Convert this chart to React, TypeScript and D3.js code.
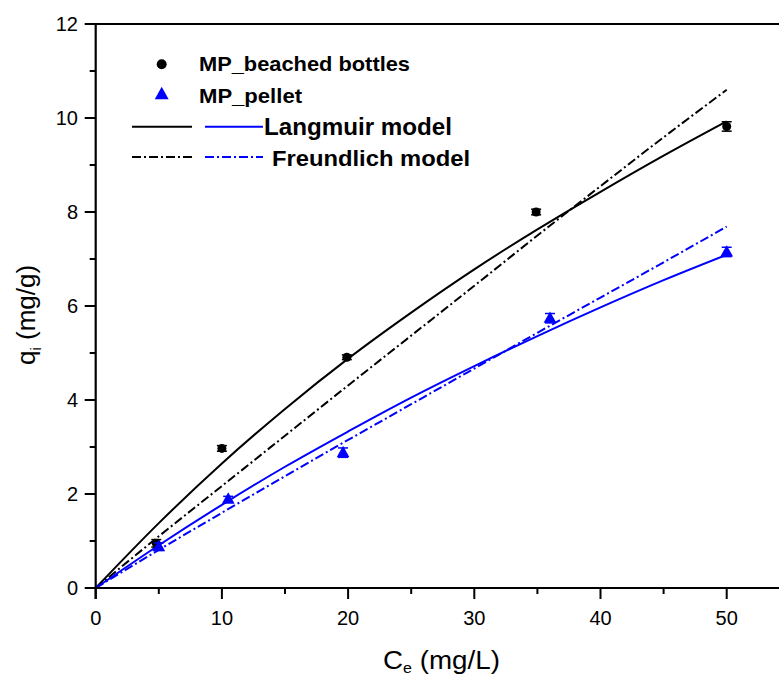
import React from "react";
import * as d3 from "d3";

const bottlesX = [4.8, 10, 19.9, 34.9, 50];
const bottlesY = [0.95, 2.97, 4.91, 8.0, 9.82];
const bottlesErr = [0.08, 0.06, 0.05, 0.06, 0.1];

const pelletX = [5, 10.5, 19.6, 36, 50];
const pelletY = [0.88, 1.89, 2.88, 5.74, 7.15];
const pelletErr = [0.08, 0.06, 0.1, 0.1, 0.1];

const modelX = [0, 5, 10, 15, 20, 25, 30, 35, 40, 45, 50];
const langBottles = [0, 1.38, 2.65, 3.81, 4.88, 5.86, 6.78, 7.63, 8.43, 9.2, 9.93];
const freuBottles = [0, 1.1, 2.17, 3.24, 4.31, 5.37, 6.43, 7.5, 8.55, 9.59, 10.6];
const langPellet = [0, 0.91, 1.77, 2.58, 3.33, 4.05, 4.72, 5.36, 5.97, 6.55, 7.09];
const freuPellet = [0, 0.81, 1.6, 2.38, 3.15, 3.91, 4.67, 5.43, 6.18, 6.93, 7.69];

const xMajor = [0, 10, 20, 30, 40, 50];
const xMinor = [5, 15, 25, 35, 45];
const yMajor = [0, 2, 4, 6, 8, 10, 12];
const yMinor = [1, 3, 5, 7, 9, 11];

const W = 779;
const H = 679;
const FONT = "'Liberation Sans', Arial, sans-serif";
const BLUE = "#0000ff";
const DASHDOT = "9,3,2,3";

export default function App() {
  const x = d3.scaleLinear().domain([0, 55]).range([95.7, 95.7 + 55 * 12.62]);
  const y = d3.scaleLinear().domain([0, 12]).range([588, 24]);
  const line = d3
    .line<number>()
    .x((_, i) => x(modelX[i]))
    .y((d) => y(d))
    .curve(d3.curveMonotoneX);

  const x0 = x(0);
  const y0 = y(0);

  const tri = (cx: number, cy: number, s: number) =>
    `M${cx},${cy - s * 0.62}L${cx + s * 0.58},${cy + s * 0.42}L${cx - s * 0.58},${cy + s * 0.42}Z`;

  return (
    <svg
      width={W}
      height={H}
      style={{ position: "absolute", left: 0, top: 0, background: "#fff" }}
      fontFamily={FONT}
    >
      <rect width={W} height={H} fill="#fff" />
      {/* model lines */}
      <path d={line(langBottles) || ""} fill="none" stroke="#000" strokeWidth={2} />
      <path d={line(freuBottles) || ""} fill="none" stroke="#000" strokeWidth={2} strokeDasharray={DASHDOT} />
      <path d={line(langPellet) || ""} fill="none" stroke={BLUE} strokeWidth={2} />
      <path d={line(freuPellet) || ""} fill="none" stroke={BLUE} strokeWidth={2} strokeDasharray={DASHDOT} />

      {/* data points */}
      {bottlesX.map((v, i) => (
        <g key={"b" + i}>
          <line x1={x(v)} x2={x(v)} y1={y(bottlesY[i] - bottlesErr[i])} y2={y(bottlesY[i] + bottlesErr[i])} stroke="#000" strokeWidth={1.5} />
          <line x1={x(v) - 5} x2={x(v) + 5} y1={y(bottlesY[i] - bottlesErr[i])} y2={y(bottlesY[i] - bottlesErr[i])} stroke="#000" strokeWidth={1.5} />
          <line x1={x(v) - 5} x2={x(v) + 5} y1={y(bottlesY[i] + bottlesErr[i])} y2={y(bottlesY[i] + bottlesErr[i])} stroke="#000" strokeWidth={1.5} />
          <circle cx={x(v)} cy={y(bottlesY[i])} r={4.5} fill="#000" />
        </g>
      ))}
      {pelletX.map((v, i) => (
        <g key={"p" + i}>
          <line x1={x(v)} x2={x(v)} y1={y(pelletY[i] - pelletErr[i])} y2={y(pelletY[i] + pelletErr[i])} stroke={BLUE} strokeWidth={1.5} />
          <line x1={x(v) - 5} x2={x(v) + 5} y1={y(pelletY[i] - pelletErr[i])} y2={y(pelletY[i] - pelletErr[i])} stroke={BLUE} strokeWidth={1.5} />
          <line x1={x(v) - 5} x2={x(v) + 5} y1={y(pelletY[i] + pelletErr[i])} y2={y(pelletY[i] + pelletErr[i])} stroke={BLUE} strokeWidth={1.5} />
          <path d={tri(x(v), y(pelletY[i]), 11)} fill={BLUE} />
        </g>
      ))}

      {/* axes */}
      <line x1={85} x2={W} y1={y(12)} y2={y(12)} stroke="#000" strokeWidth={2.2} />
      <line x1={x0} x2={x0} y1={y(12)} y2={y0 + 11} stroke="#000" strokeWidth={2.2} />
      <line x1={85} x2={W} y1={y0} y2={y0} stroke="#000" strokeWidth={2.2} />
      {yMajor.map((t) => (
        <g key={"ym" + t}>
          <line x1={x0 - 11} x2={x0} y1={y(t)} y2={y(t)} stroke="#000" strokeWidth={2} />
          <text x={78} y={y(t) + 7} textAnchor="end" fontSize={20} fill="#000">
            {t}
          </text>
        </g>
      ))}
      {yMinor.map((t) => (
        <line key={"yn" + t} x1={x0 - 6} x2={x0} y1={y(t)} y2={y(t)} stroke="#000" strokeWidth={2} />
      ))}
      {xMajor.map((t) => (
        <g key={"xm" + t}>
          <line x1={x(t)} x2={x(t)} y1={y0} y2={y0 + 11} stroke="#000" strokeWidth={2} />
          <text x={x(t)} y={625} textAnchor="middle" fontSize={20} fill="#000">
            {t}
          </text>
        </g>
      ))}
      {xMinor.map((t) => (
        <line key={"xn" + t} x1={x(t)} x2={x(t)} y1={y0} y2={y0 + 6} stroke="#000" strokeWidth={2} />
      ))}

      {/* axis titles */}
      <text x={383} y={669} fontSize={26} fill="#000" textLength={117} lengthAdjust="spacingAndGlyphs">
        C<tspan fontSize={15} dy={4}>e</tspan>
        <tspan dy={-4}> (mg/L)</tspan>
      </text>
      <text transform="translate(35,365) rotate(-90)" fontSize={26} fill="#000">
        q<tspan fontSize={15} dy={6}>i</tspan>
        <tspan dy={-6}> (mg/g)</tspan>
      </text>

      {/* legend */}
      <circle cx={161.7} cy={64.3} r={5} fill="#000" />
      <text x={199} y={71} fontSize={21} fontWeight="bold" fill="#000" textLength={211} lengthAdjust="spacingAndGlyphs">
        MP_beached bottles
      </text>
      <path d={tri(161.7, 94.3, 12)} fill={BLUE} />
      <text x={199} y={103} fontSize={21} fontWeight="bold" fill="#000" textLength={103} lengthAdjust="spacingAndGlyphs">
        MP_pellet
      </text>
      <line x1={132} x2={192} y1={126.7} y2={126.7} stroke="#000" strokeWidth={2} />
      <line x1={205} x2={263} y1={126.7} y2={126.7} stroke={BLUE} strokeWidth={2} />
      <text x={264} y={135} fontSize={23} fontWeight="bold" fill="#000" textLength={188} lengthAdjust="spacingAndGlyphs">
        Langmuir model
      </text>
      <line x1={132} x2={192} y1={157} y2={157} stroke="#000" strokeWidth={2} strokeDasharray={DASHDOT} />
      <line x1={205} x2={263} y1={157} y2={157} stroke={BLUE} strokeWidth={2} strokeDasharray={DASHDOT} />
      <text x={272} y={166} fontSize={22} fontWeight="bold" fill="#000" textLength={198} lengthAdjust="spacingAndGlyphs">
        Freundlich model
      </text>
    </svg>
  );
}
